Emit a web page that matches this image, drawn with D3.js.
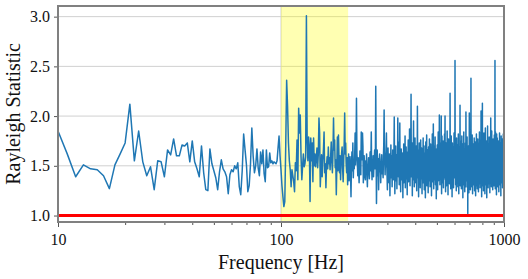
<!DOCTYPE html>
<html>
<head>
<meta charset="utf-8">
<script src="https://cdn.jsdelivr.net/npm/d3@7"></script>
<style>
  svg text { font-family: 'Liberation Serif', 'Times New Roman', serif !important; }
</style>
</head>
<body style="margin:0">
<div class="canvas"></div>
<script>
// frequencies run from 10 Hz upwards in 1 Hz steps
const freqStart = 10

// Rayleigh statistic, one list per block of frequencies
const rayleigh10 = [
  1.85,1.62,1.39,1.51,1.47,1.46,1.40,1.27,1.51,1.62,
  1.73,2.12,1.55,1.85,1.54,1.40,1.49,1.26,1.55,1.54,
  1.39,1.66,1.61,1.77,1.60,1.60,1.71,1.70,1.73,1.54,
  1.75,1.54,1.47,1.39,1.70,1.43,1.26,1.25,1.67,1.52,
  1.45,1.38,1.26,1.44,1.56,1.47,1.44,1.39,1.22,1.41,
  1.46,1.44,1.50,1.47,1.53,1.29,1.21,1.45,1.82,1.66,
  1.51,1.24,1.30,1.52,1.88,1.60,1.43,1.50,1.67,1.48,
  1.40,1.64,1.52,1.66,1.42,1.34,1.66,1.48,1.49,1.63,
  1.53,1.55,1.52,1.54,1.53,1.52,1.55,1.68,1.80,1.60
]
const rayleigh100 = [
  1.46,1.30,1.19,1.09,1.14,1.70,2.36,2.10,1.73,1.55,
  1.46,1.29,1.46,1.40,1.34,1.24,1.53,1.45,1.76,1.36,
  2.08,1.83,2.01,1.59,1.36,1.50,1.62,1.49,1.52,1.59,
  3.01,1.76,1.55,1.79,1.69,1.14,1.78,1.55,1.73,1.34,
  1.78,1.50,1.62,1.49,1.58,1.68,1.48,1.62,1.98,1.83,
  1.29,1.45,1.61,1.39,1.55,1.66,1.84,1.43,1.52,1.28,
  1.50,1.59,1.47,1.69,1.52,1.58,1.46,1.60,1.74,1.55,
  1.43,1.62,1.98,1.66,1.76,1.48,1.56,1.21,1.50,1.79,
  1.45,1.81,1.57,1.43,1.60,1.36,1.52,1.63,1.69,1.47,
  1.34,1.55,1.72,2.03,1.62,1.73,1.52,1.43,1.58,1.31
]
const rayleigh200 = [
  1.48,1.62,1.35,1.55,1.59,1.42,1.19,1.50,1.64,1.45,
  1.73,1.38,1.56,1.47,1.60,1.83,1.51,1.66,2.18,1.62,
  1.53,1.40,1.58,1.45,1.33,1.49,1.65,1.52,1.41,1.84,
  1.60,1.56,1.83,1.70,1.33,1.52,1.60,1.47,1.38,1.36,
  1.55,1.46,1.62,1.41,1.29,1.50,1.48,1.58,1.43,1.37,
  1.51,1.64,1.45,1.55,1.84,1.48,1.36,1.52,1.43,1.60,
  1.39,1.50,1.58,1.66,1.47,1.55,2.30,1.62,1.12,1.45,
  1.66,1.51,1.40,1.57,1.26,1.49,1.56,1.62,1.44,1.52,
  1.33,1.48,1.56,1.61,1.42,1.50,1.46,1.38,1.59,1.72,
  2.06,1.65,1.53,1.41,1.57,1.49,1.66,1.83,1.52,1.40
]
const rayleigh300 = [
  1.26,1.55,1.68,1.42,1.51,1.33,1.62,1.47,1.20,1.58,
  1.45,1.71,1.38,1.52,1.60,1.29,1.49,1.66,1.41,1.55,
  1.36,1.63,1.99,1.50,1.22,1.57,1.44,1.70,1.35,1.48,
  1.61,1.27,1.53,1.46,1.98,1.58,1.39,1.52,1.74,1.31,
  1.49,1.93,1.43,1.60,1.24,1.55,1.67,1.40,1.52,1.36,
  1.63,1.47,1.18,1.58,1.45,1.72,1.33,1.51,1.62,1.42,
  1.80,1.28,1.54,1.46,1.69,1.37,1.58,1.49,1.21,1.64,
  1.43,1.55,1.76,1.34,1.50,1.61,1.40,1.87,1.52,1.30,
  1.57,1.45,1.68,2.22,1.39,1.54,1.47,1.73,1.20,1.59,
  1.48,1.36,1.65,1.95,1.42,1.56,1.29,1.61,1.50,1.78
]
const rayleigh400 = [
  1.45,1.62,1.33,1.52,1.70,1.41,1.25,1.58,1.47,2.10,
  1.55,1.38,1.66,1.49,1.19,1.60,1.44,1.73,1.35,1.53,
  1.62,1.28,1.50,1.76,1.43,1.57,1.37,1.68,1.48,1.22,
  1.55,1.64,1.40,1.51,1.78,1.33,1.59,1.46,1.70,1.26,
  1.52,1.63,1.41,1.57,1.18,1.48,1.74,1.36,1.60,1.45,
  1.81,1.30,1.54,1.47,1.66,1.39,1.58,1.23,1.50,1.69,
  1.42,1.56,1.35,1.77,1.48,1.61,1.29,1.53,1.44,1.72,
  1.38,1.59,1.50,1.20,1.65,1.46,1.55,1.82,1.34,1.51,
  1.63,1.41,1.92,1.57,1.27,1.49,1.70,1.43,1.58,1.36,
  1.54,1.79,1.45,1.31,1.62,1.48,1.56,1.17,1.67,1.44
]
const rayleigh500 = [
  1.58,1.39,1.71,1.47,1.26,1.62,1.50,1.84,1.35,1.55,
  1.44,1.68,1.52,2.01,1.40,1.59,1.31,1.73,1.48,1.61,
  1.37,1.54,1.66,2.00,1.45,1.22,1.58,1.80,1.42,1.53,
  1.64,1.33,1.49,1.75,1.56,1.28,1.61,1.46,1.70,1.38,
  1.52,1.82,1.43,1.59,2.00,1.36,1.55,1.24,1.67,1.47,
  1.73,1.40,1.57,1.30,1.62,1.49,1.85,1.34,1.53,1.45,
  1.68,1.21,1.59,1.44,1.77,1.50,1.38,1.63,1.47,1.55,
  1.32,1.71,1.49,2.23,1.58,1.41,1.66,1.27,1.54,1.46,
  1.80,1.39,1.57,1.48,1.64,1.19,1.52,1.73,1.43,1.60,
  1.35,1.56,1.69,1.45,1.28,1.61,1.50,1.83,1.41,1.55
]
const rayleigh600 = [
  1.47,1.62,1.38,2.56,1.52,1.44,1.70,1.31,1.58,1.49,
  1.66,1.25,1.55,1.78,1.42,1.60,1.36,1.53,1.71,1.46,
  1.57,1.29,1.64,1.48,1.82,1.40,1.55,1.22,1.61,1.50,
  1.43,1.69,1.35,1.58,1.47,2.11,1.53,1.30,1.66,1.44,
  1.75,1.38,1.56,1.49,1.27,1.62,1.51,1.80,1.41,1.54,
  1.33,1.60,1.46,1.72,1.18,1.57,1.48,1.65,1.39,1.53,
  1.84,1.42,1.58,1.31,1.50,1.67,1.45,1.24,1.61,1.52,
  1.37,1.73,1.48,1.56,1.29,2.04,1.43,1.60,1.50,1.35,
  1.64,1.46,1.55,1.79,1.40,1.58,1.28,1.51,1.02,1.66,
  1.48,1.59,1.36,1.70,1.44,1.54,1.23,1.62,1.47,2.03
]
const rayleigh700 = [
  1.52,1.41,1.65,1.33,1.57,1.48,1.76,1.26,1.60,1.45,
  1.55,2.38,1.43,1.62,1.37,1.53,1.70,1.29,1.58,1.46,
  1.81,1.40,1.56,1.22,1.63,1.49,1.54,1.35,1.72,1.47,
  1.59,1.31,1.68,1.44,1.52,1.78,1.39,1.57,1.25,1.61,
  1.48,1.55,1.36,1.74,1.45,1.60,1.20,1.53,1.66,1.42,
  1.57,1.30,1.82,1.49,1.61,1.38,1.54,1.47,1.69,1.27,
  1.58,1.43,1.51,1.77,1.34,1.62,1.46,1.55,1.24,1.65,
  1.41,1.73,1.50,1.37,1.59,1.48,1.84,1.32,1.56,1.45,
  1.67,1.28,1.54,1.43,1.71,1.50,1.39,1.60,1.47,2.05,
  1.53,1.35,1.64,1.46,1.19,1.58,1.79,1.42,1.55,1.49
]
const rayleigh800 = [
  2.13,1.44,1.61,1.30,1.56,1.48,1.70,1.37,1.53,1.25,
  1.63,1.46,1.55,1.83,1.41,1.59,1.33,1.52,1.68,1.45,
  1.57,1.22,1.64,1.48,1.54,1.88,1.39,1.60,1.47,1.31,
  1.66,1.50,1.43,1.75,1.56,1.36,1.61,1.18,1.52,1.45,
  1.70,1.40,1.58,1.49,1.90,1.34,1.55,1.47,1.63,1.28,
  1.54,1.72,1.42,1.59,1.36,1.51,1.65,1.44,1.79,1.48,
  1.32,1.57,1.46,1.68,1.23,1.55,1.61,1.40,1.53,1.74,
  1.45,1.58,1.98,1.37,1.50,1.64,1.43,1.56,1.29,1.62,
  1.47,1.85,1.39,1.54,1.60,1.34,1.52,1.69,1.44,1.57,
  1.26,1.63,1.49,1.77,1.41,1.55,1.36,1.59,1.48,1.66
]
const rayleigh900 = [
  1.43,1.58,1.30,1.67,1.50,1.81,1.39,1.56,1.45,1.62,
  1.35,2.56,1.48,1.60,1.27,1.54,1.84,1.42,1.59,1.47,
  1.70,1.33,1.55,1.46,1.62,1.21,1.57,1.82,1.44,1.52,
  1.38,1.65,1.49,1.78,1.36,1.58,1.45,1.61,1.29,1.54,
  1.68,1.42,1.56,1.47,1.75,1.34,1.60,1.50,1.24,1.63,
  1.46,1.71,1.40,1.57,1.52,1.83,1.37,1.55,1.48,1.66,
  1.31,1.59,1.44,1.73,1.50,1.62,1.39,1.56,1.20,1.64,
  1.47,1.80,1.42,1.58,1.35,1.53,1.69,1.45,1.61,1.33,
  1.56,1.49,1.77,1.40,1.63,1.52,1.28,1.58,1.46,1.72,
  1.38,1.60,1.51,1.82,1.43,1.55,1.30,1.66,1.48,1.57,1.52
]

const band = [100, 200]          // highlighted frequency range
const refLevel = 1.0             // red reference line
const yTicks = [1.0, 1.5, 2.0, 2.5, 3.0]
const xTicks = [10, 100, 1000]

const rayleigh = [].concat(rayleigh10, rayleigh100, rayleigh200, rayleigh300,
  rayleigh400, rayleigh500, rayleigh600, rayleigh700, rayleigh800, rayleigh900)
const data = rayleigh.map((v, i) => [freqStart + i, v])

// dimensions
const width = 528, height = 279
const margin = {top: 6, right: 24, bottom: 57, left: 58}
const graphWidth = width - margin.left - margin.right
const graphHeight = height - margin.top - margin.bottom

const svg = d3.select('.canvas')
  .append('svg')
  .attr('width', width)
  .attr('height', height)

const graph = svg.append('g')
  .attr('transform', `translate(${margin.left}, ${margin.top})`)

const x = d3.scaleLog().domain([10, 1000]).range([0, graphWidth])
const y = d3.scaleLinear().domain([0.935, 3.107]).range([graphHeight, 0])

// grid
graph.append('g')
  .selectAll('line.hgrid')
  .data(yTicks)
  .enter().append('line')
  .attr('x1', 0).attr('x2', graphWidth)
  .attr('y1', d => y(d)).attr('y2', d => y(d))
  .attr('stroke', '#d0d0d0').attr('stroke-width', 1)

graph.append('g')
  .selectAll('line.vgrid')
  .data(xTicks)
  .enter().append('line')
  .attr('x1', d => x(d)).attr('x2', d => x(d))
  .attr('y1', 0).attr('y2', graphHeight)
  .attr('stroke', '#d0d0d0').attr('stroke-width', 1)

// shaded band
graph.append('rect')
  .attr('x', x(band[0]))
  .attr('width', x(band[1]) - x(band[0]))
  .attr('y', 0)
  .attr('height', graphHeight)
  .attr('fill', 'yellow')
  .attr('fill-opacity', 0.3)

// reference line
graph.append('line')
  .attr('x1', 0).attr('x2', graphWidth)
  .attr('y1', y(refLevel)).attr('y2', y(refLevel))
  .attr('stroke', 'red').attr('stroke-width', 3)

// the series
const line = d3.line()
  .x(d => x(d[0]))
  .y(d => y(d[1]))

graph.append('path')
  .datum(data)
  .attr('fill', 'none')
  .attr('stroke', '#1f77b4')
  .attr('stroke-width', 1.5)
  .attr('stroke-linejoin', 'round')
  .attr('d', line)

// axes
const minor = d3.range(1, 3).flatMap(e => d3.range(2, 10).map(m => m * Math.pow(10, e)))

const xAxisGroup = graph.append('g')
  .attr('transform', `translate(0, ${graphHeight})`)
xAxisGroup.call(d3.axisBottom(x).tickValues(xTicks).tickFormat(d3.format('d')).tickSize(5).tickPadding(7))

const minorGroup = graph.append('g')
  .attr('transform', `translate(0, ${graphHeight})`)
minorGroup.call(d3.axisBottom(x).tickValues(minor).tickFormat('').tickSize(3))

const yAxisGroup = graph.append('g')
yAxisGroup.call(d3.axisLeft(y).tickValues(yTicks).tickFormat(d3.format('.1f')).tickSize(4).tickPadding(4))

;[xAxisGroup, minorGroup, yAxisGroup].forEach(g => {
  g.select('.domain').remove()
  g.attr('font-family', 'Liberation Serif').attr('font-size', 16)
  g.selectAll('line').attr('stroke', '#555').attr('stroke-width', 1)
  g.selectAll('text')
    .attr('font-family', 'Liberation Serif')
    .attr('font-size', 16)
    .attr('fill', '#111')
})

// frame
graph.append('rect')
  .attr('x', 0).attr('y', 0)
  .attr('width', graphWidth).attr('height', graphHeight)
  .attr('fill', 'none')
  .attr('stroke', '#808080')
  .attr('stroke-width', 2)

// labels
svg.append('text')
  .attr('x', margin.left + graphWidth / 2)
  .attr('y', 269)
  .attr('text-anchor', 'middle')
  .attr('font-family', 'Liberation Serif')
  .attr('font-size', 20)
  .attr('fill', '#111')
  .text('Frequency [Hz]')

svg.append('text')
  .attr('transform', `translate(20, ${margin.top + graphHeight / 2}) rotate(-90)`)
  .attr('text-anchor', 'middle')
  .attr('font-family', 'Liberation Serif')
  .attr('font-size', 20)
  .attr('fill', '#111')
  .text('Rayleigh Statistic')
</script>
</body>
</html>
